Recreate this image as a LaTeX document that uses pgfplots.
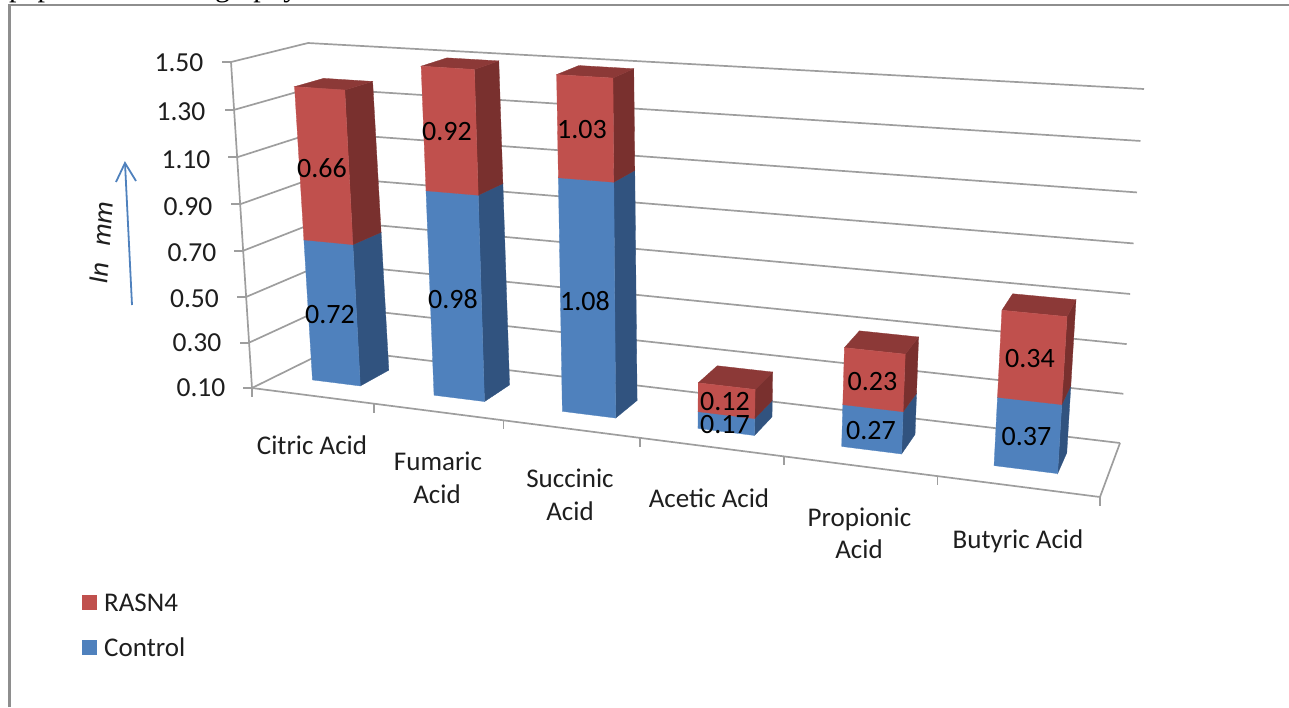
\documentclass[border=0pt]{standalone}
\usepackage{fontspec}
\setmainfont{Carlito}
\newfontfamily\bookfont{Liberation Serif}
\usepackage{pgfplots}
\pgfplotsset{compat=1.18}

\definecolor{ctlfront}{HTML}{4F81BD}
\definecolor{ctlside}{HTML}{31537F}
\definecolor{ctltop}{HTML}{3F6897}
\definecolor{rasfront}{HTML}{C0504D}
\definecolor{rasside}{HTML}{79302E}
\definecolor{rastop}{HTML}{8C3937}
\definecolor{gridgray}{HTML}{9E9E9E}
\definecolor{framegray}{HTML}{8E8E8E}
\definecolor{labelink}{HTML}{1E1E1E}

% Projection of the chart box: U = category position (0..6),
% V = value (0.10..1.50), D = depth (0 front, 1 back).
\tikzset{declare function={
  tu(\U)=0.843*(\U/6)/(1-0.157*(\U/6));
  sv(\V)=0.97*((\V-0.1)/1.4)/(1-0.03*((\V-0.1)/1.4));
  px(\U,\V,\D)=(1-\D)*((1-tu(\U))*(252-21*sv(\V))+tu(\U)*(1100+25*sv(\V)))
               +\D*((1-tu(\U))*(331-23*sv(\V))+tu(\U)*(1120+24*sv(\V)));
  py(\U,\V,\D)=(1-\D)*((1-tu(\U))*(388-326*sv(\V))+tu(\U)*(497-377*sv(\V)))
               +\D*((1-tu(\U))*(349-306*sv(\V))+tu(\U)*(443-354*sv(\V)));
}}

% A filled four-cornered face; each corner is given as U,V,D.
\newcommand\face[5]{%
  \pgfmathsetmacro\xa{px(#2)}\pgfmathsetmacro\ya{py(#2)}%
  \pgfmathsetmacro\xb{px(#3)}\pgfmathsetmacro\yb{py(#3)}%
  \pgfmathsetmacro\xc{px(#4)}\pgfmathsetmacro\yc{py(#4)}%
  \pgfmathsetmacro\xd{px(#5)}\pgfmathsetmacro\yd{py(#5)}%
  \edef\doface{\noexpand\addplot[fill=#1,draw=#1,line width=0.3pt]
    coordinates {(\xa,\ya)(\xb,\yb)(\xc,\yc)(\xd,\yd)} -- cycle;}%
  \doface}

% A straight grey line between two box points.
\newcommand\seg[2]{%
  \pgfmathsetmacro\xa{px(#1)}\pgfmathsetmacro\ya{py(#1)}%
  \pgfmathsetmacro\xb{px(#2)}\pgfmathsetmacro\yb{py(#2)}%
  \edef\doseg{\noexpand\addplot[color=gridgray,line width=1.7pt]
    coordinates {(\xa,\ya)(\xb,\yb)};}%
  \doseg}

% One block of a stacked column between values #2 and #3 in slot #1.
\newcommand\block[6]{%
  \pgfmathsetmacro\ul{#1+0.3}\pgfmathsetmacro\ur{#1+0.7}%
  \def\df{0.32}\def\db{0.71}%
  \face{#5}{\ur,#2,\df}{\ur,#2,\db}{\ur,#3,\db}{\ur,#3,\df}%
  \face{#6}{\ul,#3,\df}{\ur,#3,\df}{\ur,#3,\db}{\ul,#3,\db}%
  \face{#4}{\ul,#2,\df}{\ur,#2,\df}{\ur,#3,\df}{\ul,#3,\df}}

% Stacked column: slot, Control, RASN4. The value axis starts at 0.10
% and stops at 1.50, so the column is cut off at those two values.
\newcommand\stackbar[3]{%
  \pgfmathsetmacro\midv{min(1.5,#2)}%
  \pgfmathsetmacro\topv{min(1.5,#2+#3)}%
  \edef\blocka{\noexpand\block{#1}{0.1}{\midv}{ctlfront}{ctlside}{ctltop}}\blocka
  \edef\blockb{\noexpand\block{#1}{\midv}{\topv}{rasfront}{rasside}{rastop}}\blockb}

\tikzset{
  lab/.style={font=\fontsize{27}{32}\selectfont,inner sep=0pt,text=labelink},
  tck/.style={font=\fontsize{27.5}{32}\selectfont,inner sep=0pt,text=labelink},
  val/.style={font=\fontsize{28}{32}\selectfont,inner sep=0pt,text=black},
}

\begin{document}
\begin{tikzpicture}
\useasboundingbox (0,0) rectangle (1289pt,707pt);
\begin{axis}[
  at={(0pt,0pt)},anchor=south west,
  scale only axis,width=1289pt,height=707pt,
  xmin=0,xmax=1289,ymin=0,ymax=707,y dir=reverse,
  hide axis,clip=false,no markers,
]
% Page furniture: the line of text above the frame and the frame itself
\node[anchor=base west,inner sep=0pt,font=\bookfont\fontsize{30}{34}\selectfont,text=black]
  at (axis cs:9,-3.5) {paper\hspace{26pt}chromatography};
\addplot[color=framegray,line width=2.8pt] coordinates {(9.5,707)(9.5,5)(1289,5)};

% Walls, floor and tick stubs
\pgfplotsinvokeforeach{0.1,0.3,0.5,0.7,0.9,1.1,1.3,1.5}{
  \seg{0,#1,0}{0,#1,1}
  \seg{0,#1,1}{6,#1,1}
  \pgfmathsetmacro\xa{px(0,#1,0)}\pgfmathsetmacro\ya{py(0,#1,0)}
  \pgfmathsetmacro\xb{\xa-9}
  \edef\dostub{\noexpand\addplot[color=gridgray,line width=1.7pt]
    coordinates {(\xb,\ya)(\xa,\ya)};}
  \dostub
}
\seg{0,0.1,0}{0,1.5,0}
\seg{0,0.1,0}{6,0.1,0}
\seg{6,0.1,0}{6,0.1,1}
\pgfplotsinvokeforeach{0,1,2,3,4,5,6}{
  \pgfmathsetmacro\xa{px(#1,0.1,0)}\pgfmathsetmacro\ya{py(#1,0.1,0)}
  \pgfmathsetmacro\yb{\ya+9}
  \edef\dostub{\noexpand\addplot[color=gridgray,line width=1.7pt]
    coordinates {(\xa,\ya)(\xa,\yb)};}
  \dostub
}

% Columns: slot, Control, RASN4
\stackbar{0}{0.72}{0.66}
\stackbar{1}{0.98}{0.92}
\stackbar{2}{1.08}{1.03}
\stackbar{3}{0.17}{0.12}
\stackbar{4}{0.27}{0.23}
\stackbar{5}{0.37}{0.34}

% Value axis labels
\node[tck] at (axis cs:179,63)  {1.50};
\node[tck] at (axis cs:181,112) {1.30};
\node[tck] at (axis cs:186,160) {1.10};
\node[tck] at (axis cs:188,207) {0.90};
\node[tck] at (axis cs:192,253) {0.70};
\node[tck] at (axis cs:194.5,299) {0.50};
\node[tck] at (axis cs:197,343) {0.30};
\node[tck] at (axis cs:201,388) {0.10};

% Category labels
\node[lab,anchor=base] at (axis cs:312,454) {Citric Acid};
\node[lab,anchor=base] at (axis cs:438,470) {Fumaric};
\node[lab,anchor=base] at (axis cs:437,503) {Acid};
\node[lab,anchor=base] at (axis cs:570,487) {Succinic};
\node[lab,anchor=base] at (axis cs:570,520) {Acid};
\node[lab,anchor=base] at (axis cs:709,507) {Acetic Acid};
\node[lab,anchor=base] at (axis cs:859.5,526) {Propionic};
\node[lab,anchor=base] at (axis cs:859,558) {Acid};
\node[lab,anchor=base] at (axis cs:1018,548) {Butyric Acid};

% Data labels
\node[val] at (axis cs:322,168) {0.66};
\node[val] at (axis cs:330,315) {0.72};
\node[val] at (axis cs:447,132) {0.92};
\node[val] at (axis cs:453,299) {0.98};
\node[val] at (axis cs:582,130) {1.03};
\node[val] at (axis cs:585,301) {1.08};
\node[val] at (axis cs:725,402) {0.12};
\node[val] at (axis cs:725,425) {0.17};
\node[val] at (axis cs:872.5,382) {0.23};
\node[val] at (axis cs:871,431) {0.27};
\node[val] at (axis cs:1030,359) {0.34};
\node[val] at (axis cs:1026.5,437) {0.37};

% Legend
\addplot[fill=rasfront,draw=none] coordinates {(82,595)(97,595)(97,610)(82,610)} -- cycle;
\addplot[fill=ctlfront,draw=none] coordinates {(82,640)(97,640)(97,655)(82,655)} -- cycle;
\node[lab,anchor=base west] at (axis cs:104,611) {RASN4};
\node[lab,anchor=base west] at (axis cs:104,656) {Control};

% Unit note with its arrow
\node[lab,font=\fontsize{28}{34}\selectfont\itshape,rotate=86] at (axis cs:101,243) {In\hspace{17pt}mm};
\addplot[color=ctlfront,line width=1.8pt] coordinates {(132,305)(125,163)};
\addplot[color=ctlfront,line width=1.8pt] coordinates {(116,182)(125,163)(136,181)};
\end{axis}
\end{tikzpicture}
\end{document}
